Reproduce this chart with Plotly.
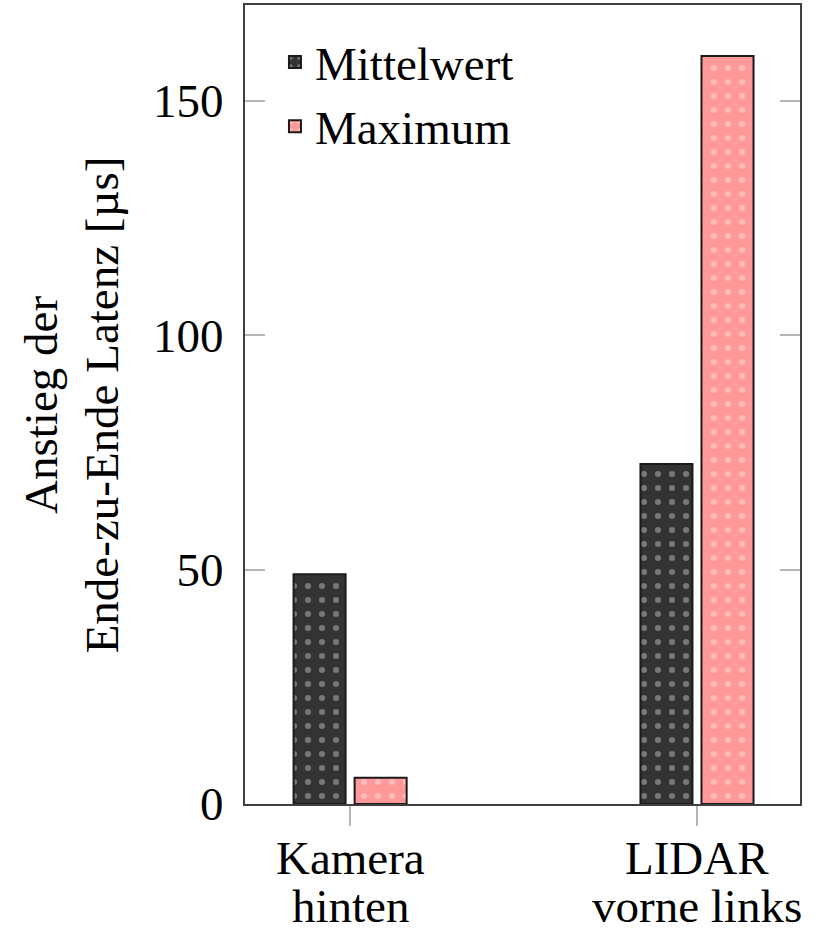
import plotly.graph_objects as go

categories = ["Kamera hinten", "LIDAR vorne links"]
label_line1 = ["Kamera", "LIDAR"]
label_line2 = ["hinten", "vorne links"]
mittelwert = [49.0, 72.5]
maximum = [5.6, 159.5]
y_ticks = [0, 50, 100, 150]

FONT = "Liberation Serif"
FS = 47
fig = go.Figure()
fig.add_trace(go.Bar(
    x=categories, y=mittelwert, name="Mittelwert",
    width=0.15, offset=-0.163,
    marker=dict(color="#333333", line=dict(color="#1a1a1a", width=2),
                pattern=dict(shape=".", fgcolor="#bbbbbb", size=14, solidity=0.15)),
))
fig.add_trace(go.Bar(
    x=categories, y=maximum, name="Maximum",
    width=0.15, offset=0.013,
    marker=dict(color="#ff9999", line=dict(color="#1a1a1a", width=2),
                pattern=dict(shape=".", fgcolor="#ffdddd", size=14, solidity=0.15)),
))

fig.update_layout(
    width=820, height=934,
    margin=dict(l=245, r=20, t=5, b=130, autoexpand=False),
    plot_bgcolor="white", paper_bgcolor="white",
    barmode="overlay",
    font=dict(family=FONT, size=FS, color="black"),
    legend=dict(x=0.054, y=0.975, xanchor="left", yanchor="top",
                bgcolor="rgba(255,255,255,0)", font=dict(size=FS),
                itemsizing="constant", tracegroupgap=0),
    showlegend=True,
)
fig.update_xaxes(
    range=[-0.303, 1.297], showgrid=False, zeroline=False, automargin=False,
    showline=True, linecolor="#404040", linewidth=2, mirror=True,
    ticks="outside", ticklen=20, tickcolor="#b5b5b5", tickwidth=1.5,
    showticklabels=False,
)
fig.update_yaxes(
    range=[0, 170.4], tickvals=y_ticks, showgrid=False, zeroline=False, automargin=False,
    showline=True, linecolor="#404040", linewidth=2, mirror="ticks",
    ticks="inside", ticklen=20, tickcolor="#b5b5b5", tickwidth=1.5,
    tickfont=dict(family=FONT, size=FS), ticklabelstandoff=10,
)
for cat, l1, l2 in zip(categories, label_line1, label_line2):
    fig.add_annotation(text=l1, x=cat, xref="x", yref="paper", y=-0.0676,
                       yanchor="middle", showarrow=False, font=dict(size=FS))
    fig.add_annotation(text=l2, x=cat, xref="x", yref="paper", y=-0.1277,
                       yanchor="middle", showarrow=False, font=dict(size=FS))
fig.add_annotation(
    text="Anstieg der<br>Ende-zu-Ende Latenz [µs]",
    xref="paper", yref="paper", x=-0.312, y=0.5, xanchor="center", yanchor="middle",
    textangle=-90, showarrow=False, font=dict(family=FONT, size=FS),
)
fig.write_html("out.html", config={"displayModeBar": False},
               post_script="document.body.style.margin='0';")
